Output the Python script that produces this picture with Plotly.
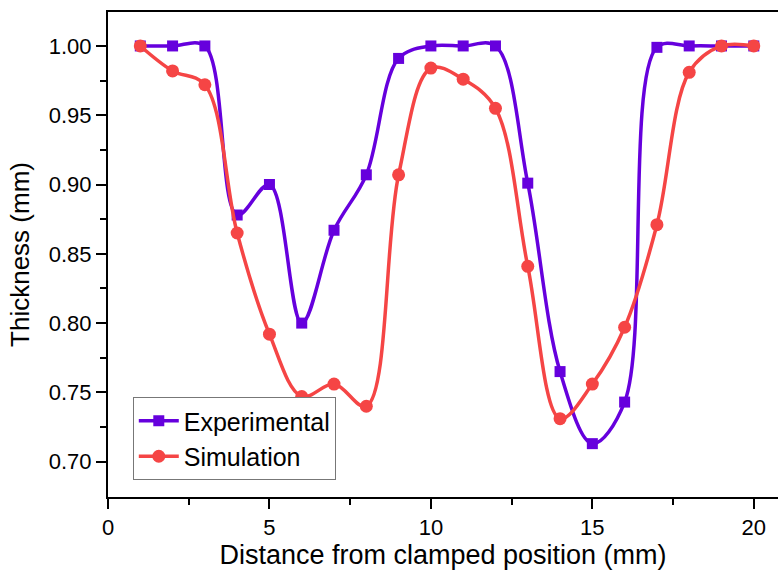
import plotly.graph_objects as go

x = list(range(1, 21))
experimental = [1.000, 1.000, 1.000, 0.878, 0.900, 0.800, 0.867, 0.907, 0.991, 1.000,
                1.000, 1.000, 0.901, 0.765, 0.713, 0.743, 0.999, 1.000, 1.000, 1.000]
simulation = [1.000, 0.982, 0.972, 0.865, 0.792, 0.747, 0.756, 0.740, 0.907, 0.984,
              0.976, 0.955, 0.841, 0.731, 0.756, 0.797, 0.871, 0.981, 1.000, 1.000]

purple = "#6600DD"
red = "#F54545"

fig = go.Figure()
fig.add_trace(go.Scatter(
    x=x, y=experimental, name="Experimental", mode="lines+markers",
    line=dict(color=purple, width=3.5, shape="spline", smoothing=1.0),
    marker=dict(symbol="square", size=11, color=purple),
))
fig.add_trace(go.Scatter(
    x=x, y=simulation, name="Simulation", mode="lines+markers",
    line=dict(color=red, width=3.5, shape="spline", smoothing=1.0),
    marker=dict(symbol="circle", size=13, color=red),
))

font_family = "Liberation Sans, Arial, sans-serif"

fig.update_layout(
    width=778, height=574,
    margin=dict(l=108, r=0, t=12, b=77),
    plot_bgcolor="white", paper_bgcolor="white",
    font=dict(family=font_family, color="black"),
    showlegend=True,
    legend=dict(
        x=0.037, y=0.035, xanchor="left", yanchor="bottom",
        bgcolor="white", bordercolor="#777777", borderwidth=1,
        font=dict(size=25, family=font_family, color="black"),
        tracegroupgap=0, itemwidth=40,
    ),
)
fig.update_xaxes(
    range=[0, 20.75], tickmode="array", tickvals=[0, 5, 10, 15, 20],
    ticks="outside", ticklen=10, tickwidth=2, tickcolor="black",
    showline=True, linecolor="black", linewidth=2, mirror=True,
    showgrid=False, zeroline=False, automargin=False,
    tickfont=dict(size=22),
    minor=dict(tickvals=[2.5, 7.5, 12.5, 17.5], ticks="outside", ticklen=6, tickwidth=2, tickcolor="black"),
    title=dict(text="Distance from clamped position (mm)", font=dict(size=27), standoff=5),
)
fig.update_yaxes(
    range=[0.6745, 1.0245], tickmode="array",
    tickvals=[0.70, 0.75, 0.80, 0.85, 0.90, 0.95, 1.00],
    ticktext=["0.70", "0.75", "0.80", "0.85", "0.90", "0.95", "1.00"],
    ticks="outside", ticklen=10, tickwidth=2, tickcolor="black",
    showline=True, linecolor="black", linewidth=2, mirror=False,
    showgrid=False, zeroline=False, automargin=False,
    tickfont=dict(size=22),
    minor=dict(tickvals=[0.725, 0.775, 0.825, 0.875, 0.925, 0.975, 1.025], ticks="outside", ticklen=6, tickwidth=2, tickcolor="black"),
    title=dict(text="Thickness (mm)", font=dict(size=26), standoff=12),
)

fig.write_html(
    "out.html",
    config={"displayModeBar": False},
    post_script="document.body.style.margin='0';document.body.style.overflow='hidden';",
)
